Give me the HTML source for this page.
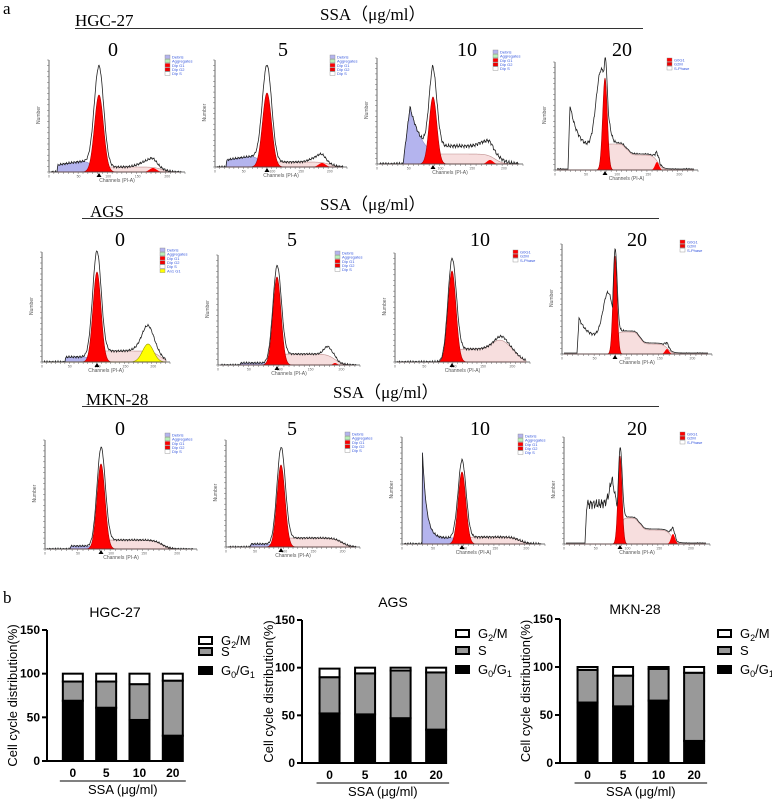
<!DOCTYPE html>
<html><head><meta charset="utf-8">
<style>
html,body{margin:0;padding:0;background:#fff;}
svg{display:block;}
text{font-family:"Liberation Sans",sans-serif;}
.serif{font-family:"Liberation Serif",serif;}
</style></head>
<body>
<svg id="fig" width="772" height="800" viewBox="0 0 772 800" xmlns="http://www.w3.org/2000/svg">
<text class="serif" x="3" y="14" font-size="17">a</text>
<text class="serif" x="3" y="603" font-size="17">b</text>
<text class="serif" x="75" y="26" font-size="17">HGC-27</text>
<line x1="75" y1="28.5" x2="643" y2="28.5" stroke="#333" stroke-width="1"/>
<text class="serif" x="320" y="20" font-size="17">SSA（μg/ml）</text>
<text class="serif" x="90" y="217" font-size="17">AGS</text>
<line x1="82" y1="218.5" x2="659" y2="218.5" stroke="#333" stroke-width="1"/>
<text class="serif" x="320" y="210" font-size="17">SSA（μg/ml）</text>
<text class="serif" x="86" y="405" font-size="17">MKN-28</text>
<line x1="82" y1="406.5" x2="659" y2="406.5" stroke="#333" stroke-width="1"/>
<text class="serif" x="333" y="398" font-size="17">SSA（μg/ml）</text>
<g id="hist"></g>
<g id="bars"></g>
</svg>
<script>
const NS="http://www.w3.org/2000/svg";
function mk(tag,attrs,parent,txt){const e=document.createElementNS(NS,tag);for(const k in attrs)e.setAttribute(k,attrs[k]);if(txt!==undefined)e.textContent=txt;parent.appendChild(e);return e;}
const svg=document.getElementById('fig');

const doseLabels=['0','5','10','20'];
const doseX=[[113,283,467,622],[120,292,480,637],[120,292,480,637]];
const doseY=[56,246,435];
doseX.forEach((row,r)=>row.forEach((x,i)=>{
  const t=mk('text',{x:x,y:doseY[r],'font-size':20,'text-anchor':'middle',class:'serif'},svg,doseLabels[i]);
  
  
}));

const G=(x,c,h,w)=>h*Math.exp(-((x-c)*(x-c))/(2*w*w));
const P=(x,a,b,h,ea,eb)=>h/(1+Math.exp(-(x-a)/(ea||1.5)))/(1+Math.exp(-(b-x)/(eb||2.5)));
const N=(x,s)=>s*(Math.sin(x*2.3)*0.6+Math.sin(x*5.1+1)*0.4);
const F=(x,e,t)=>x<e?1:Math.exp(-(x-e)/t);
const H=document.getElementById('hist');
const panels=[
 {ax:49,base:172,top:60,end:185,leg:[165,55],legN:5,
  deb:x=>x>57?P(x,57,92,7+(x-57)*0.15,0.5,3):0, g1:[99,77,4.5],o1:[99,100,4.7], s:x=>P(x,92,162,5,2,4), g2:[153,4,3.5], ex:x=>G(x,148,6,8)+N(x,1.3)},
 {ax:215,base:167,top:60,end:347,leg:[330,55],legN:5,
  deb:x=>x>226?P(x,226,260,7+(x-226)*0.15,0.5,3):0, g1:[267,74,4.5],o1:[267,96,4.7], s:x=>P(x,260,330,5,2,4), g2:[322,4,3.5], ex:x=>G(x,318,5,7)+N(x,1.2)},
 {ax:377,base:164,top:58,end:523,leg:[493,50],legN:5,
  deb:x=>x>403?(x<410?57*(x-403)/7:57*Math.exp(-(x-410)/14))*F(x,433,2):0, g1:[433,67,3.8],o1:[433,80,4], s:x=>P(x,432,495,10,1.5,4), g2:[490,4,3], ex:x=>(x>428?P(x,438,500,8,2,5):0)+G(x,485,5,6)+N(x,2)},
 {ax:555,base:170,top:62,end:698,leg:[667,58],legN:3,m20:true,
  deb:x=>x>568?(x<570?65*(x-568)/2:45*Math.exp(-(x-570)/8)+20)*F(x,604,3):0, g1:[605,92,2.3],o1:[601,78,5], s:x=>P(x,604,627,26,1,1.5)+P(x,627,658,15,1,2.5), g2:[657,8,2], ex:x=>N(x,2)},
 {ax:42,base:362,top:252,end:170,leg:[160,248],legN:6,
  deb:x=>x>65?P(x,65,92,5,0.5,2):0, g1:[97,90,4],o1:[97,100,4.2], s:x=>P(x,90,160,11,2,4), g2:null, ex:x=>G(x,147,8,8)+N(x,1.2), yel:[148,18,5.5]},
 {ax:218,base:365,top:255,end:360,leg:[335,251],legN:5,
  deb:x=>x>240?P(x,240,272,2,0.5,2):0, g1:[277,88,4],o1:[277,95,4.2], s:x=>P(x,278,335,11,2,4), g2:[335,2,2], ex:x=>G(x,328,9,4)+N(x,1)},
 {ax:395,base:362,top:253,end:530,leg:[513,250],legN:3,
  deb:x=>0, g1:[452,91,4],o1:[452,100,4.2], s:x=>P(x,454,518,13,2,4)+G(x,500,9,8), g2:null, ex:x=>G(x,502,4,5)+N(x,1.3)},
 {ax:562,base:354,top:244,end:712,leg:[680,240],legN:3,m20:true,
  deb:x=>x>577?(x<579?36*(x-577)/2:20*Math.exp(-(x-579)/8)+16)*F(x,612,3):0, g1:[615,98,2],o1:[608,45,5], s:x=>P(x,616,640,22,1,1.5)+P(x,640,668,10,1,2.5), g2:[667,5,2], ex:x=>N(x,1.5)},
 {ax:45,base:549,top:440,end:197,leg:[165,433],legN:5,
  deb:x=>x>70?P(x,70,94,3,0.5,2):0, g1:[101,85,4],o1:[101,96,4.2], s:x=>P(x,100,162,9,2,4), g2:null, ex:x=>N(x,1)},
 {ax:226,base:547,top:440,end:360,leg:[345,432],legN:5,
  deb:x=>x>250?P(x,250,275,3,0.5,2):0, g1:[281,82,4],o1:[281,95,4.2], s:x=>P(x,281,342,9,2,4), g2:null, ex:x=>N(x,1)},
 {ax:402,base:544,top:437,end:545,leg:[518,434],legN:5,
  deb:x=>x>422?(97*Math.exp(-(x-422)/4)+6)*F(x,455,3):0, g1:[462,72,3.8],o1:[462,82,4], s:x=>P(x,465,520,7,2,4), g2:null, ex:x=>N(x,1.3)},
 {ax:564,base:544,top:437,end:710,leg:[680,432],legN:3,m20:true,
  deb:x=>x>585?(x<587?45*(x-585)/2:40+N(x,4))*F(x,612,3):0, g1:[620,88,2],o1:[615,35,4], s:x=>P(x,621,640,26,1,1.5)+P(x,640,672,14,1,2.5), g2:[673,10,2], ex:x=>N(x,1.5)},
];
const legTexts6=['Debris','Aggregates','Dip G1','Dip G2','Dip S','An1 G1'];
const legCols6=['#b4b4ee','#b8f0b8','#ff0000','#ee0000','#ffffff','#ffff00'];
const legTexts3=['G0G1','G2M','S-Phase'];
const legCols3=['#ff0000','#ee0000','#ffffff'];
panels.forEach((p,idx)=>{
  const g=mk('g',{},H);
  
  
  const xs=[];for(let x=p.ax+2;x<=p.end-4;x+=0.5)xs.push(x);
  const Y=h=>p.base-h;
  const area=(f,fill,stroke,name)=>{
    let d='M'+xs[0]+','+p.base;
    xs.forEach(x=>{d+=' L'+x+','+Y(Math.max(0,f(x))).toFixed(2);});
    d+=' L'+xs[xs.length-1]+','+p.base+' Z';
    const e=mk('path',{d:d,fill:fill,stroke:stroke||'none','stroke-width':0.6},g);
    
    
  };
  if(!p.m20) area(p.deb,'#b4b4ee','#9090c8','debris-area');
  area(p.s,'#f7dede','#c09090','s-phase-area');
  area(x=>G(x,p.g1[0],p.g1[1],p.g1[2]),'#ff0000','#b00000','g1-peak');
  if(p.g2) area(x=>G(x,p.g2[0],p.g2[1],p.g2[2]),'#ff0000','none','g2-peak');
  if(p.yel) area(x=>G(x,p.yel[0],p.yel[1],p.yel[2]),'#ffff00','#999900','aneuploid-g1-peak');
  let d='';
  xs.forEach((x,i)=>{
    let v=p.deb(x)+p.s(x)+G(x,p.o1[0],p.o1[1],p.o1[2])+(p.g2?G(x,p.g2[0],p.g2[1],p.g2[2]):0)+(p.yel?G(x,p.yel[0],p.yel[1],p.yel[2]):0)+p.ex(x);
    if(p.m20) v=Math.max(v,G(x,p.g1[0],p.g1[1],p.g1[2])+p.s(x)+1);
    if(v<0)v=0;
    d+=(i?' L':'M')+x+','+Y(v).toFixed(2);
  });
  const o=mk('path',{d:d,fill:'none',stroke:'#222','stroke-width':0.8},g);
  
  
  const ya=mk('line',{x1:p.ax,y1:p.top,x2:p.ax,y2:p.base,stroke:'#444','stroke-width':0.8},g);
  
  
  const xa=mk('line',{x1:p.ax,y1:p.base,x2:p.end,y2:p.base,stroke:'#444','stroke-width':0.8},g);
  
  
  for(let k=0;k<=20;k++){const yy=p.base-(p.base-p.top)*k/20;mk('line',{x1:p.ax-2,y1:yy,x2:p.ax,y2:yy,stroke:'#666','stroke-width':0.5},g);}
  for(let k=0;k<=28;k++){const xx=p.ax+(p.end-p.ax)*k/28;mk('line',{x1:xx,y1:p.base,x2:xx,y2:p.base+2,stroke:'#666','stroke-width':0.5},g);}
  for(let k=0;k<=4;k++){const xx=p.ax+(p.end-p.ax)*k/4.6;mk('text',{x:xx,y:p.base+5.5,'font-size':3.5,fill:'#666','text-anchor':'middle'},g,String(k*50));}
  const nl=mk('text',{x:0,y:0,'font-size':5,fill:'#555',transform:`translate(${p.ax-9},${(p.base+p.top)/2+8}) rotate(-90)`},g,'Number');
  
  
  const cl=mk('text',{x:(p.ax+p.end)/2,y:p.base+10,'font-size':5,fill:'#555','text-anchor':'middle'},g,'Channels (PI-A)');
  
  
  mk('path',{d:`M${p.g1[0]-2.5},${p.base+5} L${p.g1[0]+2.5},${p.base+5} L${p.g1[0]},${p.base+1} Z`,fill:'#000'},g);
  const n=p.legN, texts=n===3?legTexts3:legTexts6.slice(0,n), cols=n===3?legCols3:legCols6;
  const lg=mk('g',{},g);
  
  
  texts.forEach((t,i)=>{
    mk('rect',{x:p.leg[0],y:p.leg[1]+i*4.2,width:5,height:3.6,fill:cols[i],stroke:'#888','stroke-width':0.4},lg);
    mk('text',{x:p.leg[0]+7,y:p.leg[1]+i*4.2+3.4,'font-size':4,fill:'#3355dd'},lg,t);
  });
});

// ---- stacked bar charts ----
const categories=['0','5','10','20'];
const hgcG0G1=[69,61,47,29];
const hgcS=[22,30,41,63];
const hgcG2M=[9,9,12,8];
const agsG0G1=[52,51,47,35];
const agsS=[38,43,50,60];
const agsG2M=[9,6,3,5];
const mknG0G1=[63,59,65,23];
const mknS=[34,32,33,71];
const mknG2M=[3,9,2,6];
const yTicks=[0,50,100,150];
const chartTitles=['HGC-27','AGS','MKN-28'];

const B=document.getElementById('bars');
const charts=[
 {ax:47,y0:761,y150:630,end:183,title:chartTitles[0],tx:115,ty:617,yt:17,leg:[199,641,652,671],series:[hgcG0G1,hgcS,hgcG2M]},
 {ax:302,y0:763,y150:620,end:447,title:chartTitles[1],tx:393,ty:607,yt:273,leg:[456,634,651,670],series:[agsG0G1,agsS,agsG2M]},
 {ax:560,y0:763,y150:619,end:705,title:chartTitles[2],tx:635,ty:614,yt:530,leg:[718,634,651,670],series:[mknG0G1,mknS,mknG2M]},
];
charts.forEach((c,ci)=>{
  const g=mk('g',{},B);
  
  
  const yS=v=>c.y0-(c.y0-c.y150)*v/150;
  const plotW=c.end-c.ax;
  const xS=i=>c.ax+plotW*(0.19+i*0.245);
  const bw=20;
  const t=mk('text',{x:c.tx,y:c.ty,'font-size':14,'text-anchor':'middle'},g,c.title);
  
  
  const yt=mk('text',{x:0,y:0,'font-size':13,'text-anchor':'middle',transform:`translate(${c.yt},${(c.y0+c.y150)/2}) rotate(-90)`},g,'Cell cycle distribution(%)');
  
  
  const fills=['#000','#999','#fff'];
  const names=['g0g1','s','g2m'];
  categories.forEach((cat,i)=>{
    let acc=0;
    c.series.forEach((ser,si)=>{
      const v=ser[i];
      const r=mk('rect',{x:xS(i)-bw/2,y:yS(acc+v),width:bw,height:yS(acc)-yS(acc+v),fill:fills[si],stroke:'#000','stroke-width':2},g);
      
      
      acc+=v;
    });
    const lt=mk('text',{x:xS(i),y:c.y0+16,'font-size':12,'font-weight':'bold','text-anchor':'middle'},g,cat);
    
    
  });
  const ya=mk('line',{x1:c.ax,y1:c.y150,x2:c.ax,y2:c.y0,stroke:'#000','stroke-width':2},g);
  
  
  const xa=mk('line',{x1:c.ax-1,y1:c.y0,x2:c.end,y2:c.y0,stroke:'#000','stroke-width':2},g);
  
  
  yTicks.forEach(v=>{
    mk('line',{x1:c.ax-5,y1:yS(v),x2:c.ax,y2:yS(v),stroke:'#000','stroke-width':2},g);
    const tl=mk('text',{x:c.ax-7,y:yS(v)+4,'font-size':12,'font-weight':'bold','text-anchor':'end'},g,String(v));
    
    
  });
  const ul=mk('line',{x1:xS(0)-bw/2-3,y1:c.y0+20,x2:xS(3)+bw/2+3,y2:c.y0+20,stroke:'#000','stroke-width':1},g);
  
  
  const xt=mk('text',{x:(xS(0)+xS(3))/2,y:c.y0+33,'font-size':13,'text-anchor':'middle'},g,'SSA  (μg/ml)');
  
  
  const lg=mk('g',{},g);
  
  
  const lfill=['#fff','#999','#000'];
  const ltxt=[['G','2','/M'],['S','',''],['G','0','/G','1']];
  [c.leg[1],c.leg[2],c.leg[3]].forEach((yy,k)=>{
    mk('rect',{x:c.leg[0],y:yy-4,width:13,height:7,fill:lfill[k],stroke:'#000','stroke-width':2},lg);
    const tx=mk('text',{x:c.leg[0]+22,y:yy+4,'font-size':13},lg);
    const parts=ltxt[k];
    mk('tspan',{},tx,parts[0]);
    if(parts[1]) mk('tspan',{'font-size':9,dy:3},tx,parts[1]);
    if(parts[2]) mk('tspan',{dy:-3},tx,parts[2]);
    if(parts[3]) mk('tspan',{'font-size':9,dy:3},tx,parts[3]);
  });
});
</script>
</body></html>
